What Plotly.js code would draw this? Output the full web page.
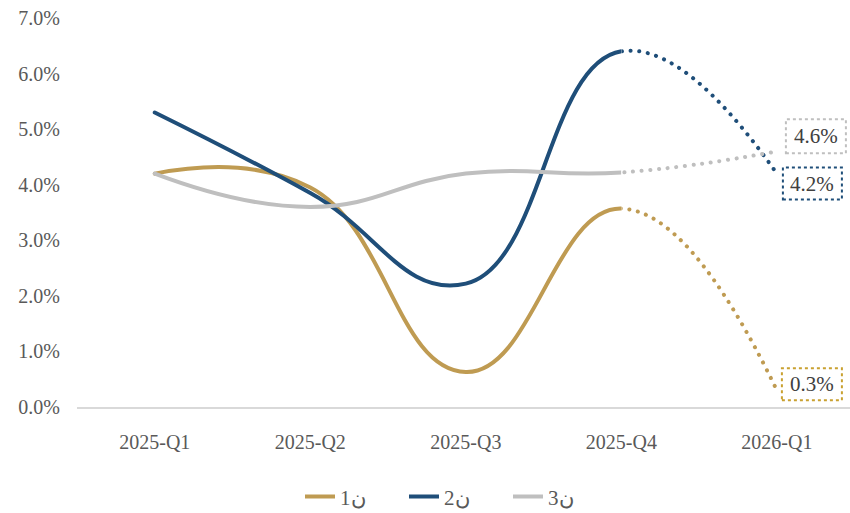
<!DOCTYPE html>
<html>
<head>
<meta charset="utf-8">
<script src="https://cdn.plot.ly/plotly-3.0.1.min.js"></script>
<style>
html,body{margin:0;padding:0;background:#fff;}
#chart{width:850px;height:513px;}
.scatterlayer path.js-line{stroke-linecap:round;}
</style>
</head>
<body>
<div id="chart"></div>
<script>
// ---- data ----
const categories = ["2025-Q1", "2025-Q2", "2025-Q3", "2025-Q4", "2026-Q1"];
const seriesNames = ["1ن", "2ن", "3ن"];
const series1 = [4.2, 3.95, 0.63, 3.57, 0.3];
const series2 = [5.3, 3.85, 2.22, 6.4, 4.2];
const series3 = [4.2, 3.6, 4.2, 4.22, 4.6];
const yTickVals = [0, 1, 2, 3, 4, 5, 6, 7];
const forecastStartIndex = 3; // from 2025-Q4 onward the line is dotted

// ---- style ----
const colors = ["#BF9B52", "#1F4E79", "#BFBFBF"];
const boxColors = ["#C9A130", "#1F4E79", "#BFBFBF"];
const fontFamily = "'Liberation Serif', 'Times New Roman', serif";
const xs = categories.map((c, i) => i);

const xMin = -0.5, xMax = 4.47;
const split = (forecastStartIndex - xMin) / (xMax - xMin);
const smooth = 1.3;

const allSeries = [series1, series2, series3];
const traces = [];
allSeries.forEach((s, k) => {
  traces.push({
    x: xs, y: s, type: "scatter", mode: "lines",
    name: seriesNames[k], xaxis: "x2", yaxis: "y",
    line: {color: colors[k], width: 4, shape: "spline", smoothing: smooth},
    hoverinfo: "skip", showlegend: true
  });
});
allSeries.forEach((s, k) => {
  traces.push({
    x: xs, y: s, type: "scatter", mode: "lines",
    name: seriesNames[k], xaxis: "x3", yaxis: "y",
    line: {color: colors[k], width: 4, shape: "spline", smoothing: smooth, dash: "0.1px,8.6px"},
    hoverinfo: "skip", showlegend: false
  });
});

const last = categories.length - 1;
// label offsets (pixels) relative to the last data point
const labelOffsets = [
  {dx: 35, dy: 6, x0: 5, x1: 65, y0: -10, y1: 22},
  {dx: 35.5, dy: -10, x0: 6, x1: 65, y0: -26, y1: 6},
  {dx: 39, dy: 15, x0: 9, x1: 69, y0: -2, y1: 32}
];
const annotations = [];
const shapes = [];
allSeries.forEach((s, k) => {
  const o = labelOffsets[k];
  const v = s[last];
  annotations.push({
    x: last, y: v, xref: "x", yref: "y", xshift: o.dx, yshift: o.dy,
    text: v.toFixed(1) + "%", showarrow: false,
    font: {family: fontFamily, size: 21, color: "#404040"}
  });
  shapes.push({
    type: "rect", xref: "x", yref: "y", xsizemode: "pixel", ysizemode: "pixel",
    xanchor: last, yanchor: v, x0: o.x0, x1: o.x1, y0: o.y0, y1: o.y1,
    line: {color: boxColors[k], width: 2, dash: "dot"}, fillcolor: "rgba(0,0,0,0)"
  });
});

const layout = {
  width: 850, height: 513,
  margin: {l: 77, r: 0, t: 18, b: 106, autoexpand: false},
  paper_bgcolor: "#fff", plot_bgcolor: "#fff",
  font: {family: fontFamily, size: 20, color: "#595959"},
  showlegend: true,
  legend: {orientation: "h", x: (300 - 77) / 773, xanchor: "left", y: -0.231, yanchor: "middle",
           entrywidth: 59, entrywidthmode: "pixels",
           font: {family: fontFamily, size: 21, color: "#595959"}, traceorder: "normal"},
  xaxis: {
    range: [xMin, xMax], domain: [0, 1], anchor: "y",
    tickvals: xs, ticktext: categories, showgrid: false, zeroline: false,
    showline: true, linecolor: "#D9D9D9", linewidth: 1.5, ticks: "",
    ticklabelstandoff: 16, fixedrange: true
  },
  xaxis2: {range: [xMin, forecastStartIndex], domain: [0, split], anchor: "y",
           visible: false, fixedrange: true},
  xaxis3: {range: [forecastStartIndex, xMax], domain: [split, 1], anchor: "y",
           visible: false, fixedrange: true},
  yaxis: {
    range: [0, 7], tickvals: yTickVals, ticktext: yTickVals.map(v => v.toFixed(1) + "%"),
    showgrid: false, zeroline: false, showline: false, ticks: "",
    ticklabelstandoff: 16, fixedrange: true
  },
  annotations: annotations,
  shapes: shapes
};

Plotly.newPlot("chart", traces, layout, {displayModeBar: false, staticPlot: true});
</script>
</body>
</html>
